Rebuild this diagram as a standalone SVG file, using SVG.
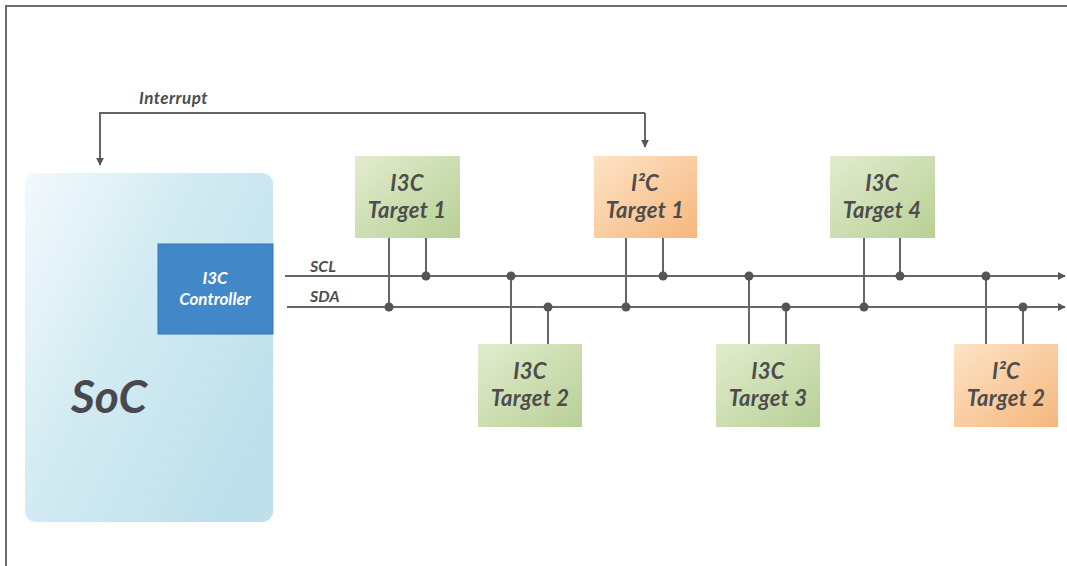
<svg xmlns="http://www.w3.org/2000/svg" width="1067" height="566" viewBox="0 0 1067 566">
<defs>
<linearGradient id="gSoc" x1="0" y1="0" x2="1" y2="0.7">
<stop offset="0" stop-color="#f3f9fc"/>
<stop offset="0.45" stop-color="#d3ebf2"/>
<stop offset="1" stop-color="#bde0ea"/>
</linearGradient>
<linearGradient id="gGreen" x1="0" y1="0" x2="1" y2="1">
<stop offset="0" stop-color="#e2ecce"/>
<stop offset="1" stop-color="#b8d096"/>
</linearGradient>
<linearGradient id="gOrange" x1="0" y1="0" x2="1" y2="1">
<stop offset="0" stop-color="#fde3c6"/>
<stop offset="1" stop-color="#f6b77d"/>
</linearGradient>
<marker id="arr" viewBox="0 0 10 10" refX="9" refY="5" markerWidth="4" markerHeight="4" orient="auto" markerUnits="strokeWidth">
<path d="M0,0 L10,5 L0,10 z" fill="#555"/>
</marker>
<style>
.frame{fill:none;stroke:#6b6b6b;stroke-width:2}
.wire{fill:none;stroke:#666;stroke-width:2}
.dot{fill:#555}
.lbl{font-family:Lato,"Open Sans","DejaVu Sans",sans-serif;font-weight:700;font-style:italic;fill:#4d4d4d}
.tgt{font-size:22px;text-anchor:middle;letter-spacing:0.3px}
.green{fill:url(#gGreen)}
.orange{fill:url(#gOrange)}
</style>
</defs>
<rect width="1067" height="566" fill="#ffffff"/>
<path class="frame" d="M6,566 L6,6 L1067,6"/>

<g id="soc">
<rect x="25" y="173" width="248" height="349" rx="11" fill="url(#gSoc)"/>
<text class="lbl" x="71" y="413" font-size="46" style="fill:#48484e">SoC</text>
</g>
<g id="controller">
<rect x="158" y="244" width="115" height="90" fill="#4288c8" stroke="#3474b4" stroke-width="1"/>
<text class="lbl" x="215" y="284" font-size="17" text-anchor="middle" style="fill:#ffffff">I3C</text>
<text class="lbl" x="215" y="305" font-size="17" text-anchor="middle" style="fill:#ffffff">Controller</text>
</g>

<g id="connectors">
<path class="wire" d="M645,113 L100,113 L100,165" marker-end="url(#arr)"/>
<path class="wire" d="M645,113 L645,147" marker-end="url(#arr)"/>
<text class="lbl" x="139" y="104" font-size="17" letter-spacing="0.5">Interrupt</text>
<path class="wire" d="M285,276 L1065,276" marker-end="url(#arr)"/>
<path class="wire" d="M287,307 L1065,307" marker-end="url(#arr)"/>
<text class="lbl" x="310" y="272" font-size="16">SCL</text>
<text class="lbl" x="310" y="302" font-size="16">SDA</text>
<path class="wire" d="M389,238 V307 M426,238 V276"/>
<path class="wire" d="M511,276 V344 M548,307 V344"/>
<path class="wire" d="M626,238 V307 M663,238 V276"/>
<path class="wire" d="M749,276 V344 M786,307 V344"/>
<path class="wire" d="M864,238 V307 M900,238 V276"/>
<path class="wire" d="M986,276 V344 M1023,307 V344"/>
<circle class="dot" cx="389" cy="307" r="4.5"/>
<circle class="dot" cx="426" cy="276" r="4.5"/>
<circle class="dot" cx="511" cy="276" r="4.5"/>
<circle class="dot" cx="548" cy="307" r="4.5"/>
<circle class="dot" cx="626" cy="307" r="4.5"/>
<circle class="dot" cx="663" cy="276" r="4.5"/>
<circle class="dot" cx="749" cy="276" r="4.5"/>
<circle class="dot" cx="786" cy="307" r="4.5"/>
<circle class="dot" cx="864" cy="307" r="4.5"/>
<circle class="dot" cx="900" cy="276" r="4.5"/>
<circle class="dot" cx="986" cy="276" r="4.5"/>
<circle class="dot" cx="1023" cy="307" r="4.5"/>
</g>

<g id="i3c-target-1">
<rect class="green" x="355" y="156" width="105" height="82"/>
<text class="lbl tgt" x="407" y="191">I3C</text>
<text class="lbl tgt" x="407" y="218">Target 1</text>
</g>
<g id="i2c-target-1">
<rect class="orange" x="594" y="156" width="103" height="82"/>
<text class="lbl tgt" x="645" y="191">I²C</text>
<text class="lbl tgt" x="645" y="218">Target 1</text>
</g>
<g id="i3c-target-4">
<rect class="green" x="830" y="156" width="105" height="82"/>
<text class="lbl tgt" x="882" y="191">I3C</text>
<text class="lbl tgt" x="882" y="218">Target 4</text>
</g>
<g id="i3c-target-2">
<rect class="green" x="478" y="344" width="104" height="83"/>
<text class="lbl tgt" x="530" y="379">I3C</text>
<text class="lbl tgt" x="530" y="406">Target 2</text>
</g>
<g id="i3c-target-3">
<rect class="green" x="716" y="344" width="104" height="83"/>
<text class="lbl tgt" x="768" y="379">I3C</text>
<text class="lbl tgt" x="768" y="406">Target 3</text>
</g>
<g id="i2c-target-2">
<rect class="orange" x="954" y="344" width="104" height="83"/>
<text class="lbl tgt" x="1006" y="379">I²C</text>
<text class="lbl tgt" x="1006" y="406">Target 2</text>
</g>
</svg>
